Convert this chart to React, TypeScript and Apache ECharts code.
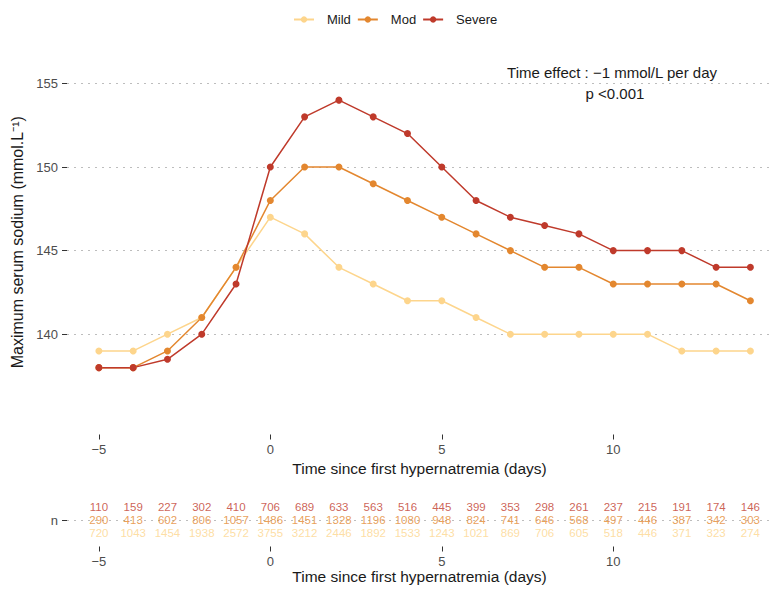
import React, { useEffect, useRef } from "react";
import * as echarts from "echarts";

const days = [-5, -4, -3, -2, -1, 0, 1, 2, 3, 4, 5, 6, 7, 8, 9, 10, 11, 12, 13, 14];
const mild = [139, 139, 140, 141, 144, 147, 146, 144, 143, 142, 142, 141, 140, 140, 140, 140, 140, 139, 139, 139];
const mod = [138, 138, 139, 141, 144, 148, 150, 150, 149, 148, 147, 146, 145, 144, 144, 143, 143, 143, 143, 142];
const severe = [138, 138, 138.5, 140, 143, 150, 153, 154, 153, 152, 150, 148, 147, 146.5, 146, 145, 145, 145, 144, 144];

const nSevere = [110, 159, 227, 302, 410, 706, 689, 633, 563, 516, 445, 399, 353, 298, 261, 237, 215, 191, 174, 146];
const nMod = [290, 413, 602, 806, 1057, 1486, 1451, 1328, 1196, 1080, 948, 824, 741, 646, 568, 497, 446, 387, 342, 303];
const nMild = [720, 1043, 1454, 1938, 2572, 3755, 3212, 2446, 1892, 1533, 1243, 1021, 869, 706, 605, 518, 446, 371, 323, 274];

const yTicks = [140, 145, 150, 155];
const xTicks = [-5, 0, 5, 10];

const C_MILD = "#FDD58C";
const C_MOD = "#E3872F";
const C_SEV = "#BF3A2B";
const FONT = "'Liberation Sans', Arial, Helvetica, sans-serif";

const fmtX = (v: number) => (v < 0 ? "\u2212" + Math.abs(v) : String(v));

export default function App() {
  const ref = useRef<HTMLDivElement>(null);
  useEffect(() => {
    document.body.style.margin = "0";
    const chart = echarts.init(ref.current!, null, { renderer: "svg" });
    const lineSeries = (name: string, vals: number[], color: string) => ({
      name,
      type: "line",
      xAxisIndex: 0,
      yAxisIndex: 0,
      data: days.map((d, i) => [d, vals[i]]),
      symbol: "circle",
      symbolSize: 7,
      showSymbol: true,
      lineStyle: { color, width: 1.5 },
      itemStyle: { color },
      z: 3,
    });
    const nSeries = (name: string, vals: number[], color: string, row: number) => ({
      name,
      type: "scatter",
      xAxisIndex: 1,
      yAxisIndex: 1,
      data: days.map((d, i) => [d, row, vals[i]]),
      symbolSize: 1,
      itemStyle: { color: "rgba(0,0,0,0)" },
      label: {
        show: true,
        position: "inside",
        formatter: (p: any) => String(p.value[2]),
        color,
        fontSize: 11.5,
        lineHeight: 11,
        fontFamily: FONT,
      },
      z: 3,
    });
    const gridLineStyle = { color: "#bdbdbd", width: 1.2, type: [2, 5] as any };
    const xAxisCommon = {
      type: "value",
      min: -5.93,
      max: 14.63,
      axisLine: { show: false, onZero: false },
      splitLine: { show: false },
      axisTick: { show: true, customValues: xTicks, length: 5, lineStyle: { color: "#333" } },
      axisLabel: {
        customValues: xTicks,
        formatter: fmtX,
        color: "#4d4d4d",
        fontSize: 13,
        fontFamily: FONT,
        margin: 8,
      },
      name: "Time since first hypernatremia (days)",
      nameLocation: "middle",
      nameTextStyle: { color: "#1a1a1a", fontSize: 15.5, fontFamily: FONT },
    };
    chart.setOption({
      animation: false,
      textStyle: { fontFamily: FONT },
      legend: {
        data: ["Mild", "Mod", "Severe"],
        top: 8,
        left: 288,
        itemWidth: 20,
        itemHeight: 8,
        itemGap: 6,
        textStyle: { fontSize: 13, color: "#1a1a1a", fontFamily: FONT, padding: [0, 0, 0, 8] },
      },
      grid: [
        { left: 67, right: 4, top: 50, height: 384.5, outerBoundsMode: "none" },
        { left: 67, right: 4, top: 494, height: 52.5, outerBoundsMode: "none" },
      ],
      xAxis: [
        { ...xAxisCommon, gridIndex: 0, nameGap: 23 },
        { ...xAxisCommon, gridIndex: 1, nameGap: 21 },
      ],
      yAxis: [
        {
          type: "value",
          gridIndex: 0,
          min: 134,
          max: 157,
          axisLine: { show: false, onZero: false },
          splitLine: { show: false },
          axisTick: { show: true, customValues: yTicks, length: 5, lineStyle: { color: "#333" } },
          axisLabel: { customValues: yTicks, color: "#4d4d4d", fontSize: 13, fontFamily: FONT, margin: 9 },
          name: "Maximum serum sodium (mmol.L\u207B\u00B9)",
          nameLocation: "middle",
          nameRotate: 90,
          nameGap: 38,
          nameTextStyle: { color: "#1a1a1a", fontSize: 16, fontFamily: FONT },
        },
        {
          type: "value",
          gridIndex: 1,
          min: 0,
          max: 4,
          axisLine: { show: false, onZero: false },
          splitLine: { show: false },
          axisTick: { show: true, customValues: [2], length: 5, lineStyle: { color: "#333" } },
          axisLabel: { customValues: [2], formatter: () => "n", color: "#4d4d4d", fontSize: 13, fontFamily: FONT, margin: 9 },
        },
      ],
      graphic: [
        {
          type: "text",
          x: 612,
          y: 72,
          style: {
            text: "Time effect : \u22121 mmol/L per day",
            align: "center",
            verticalAlign: "middle",
            font: `15px ${FONT}`,
            fill: "#1a1a1a",
          },
        },
        {
          type: "text",
          x: 615,
          y: 93,
          style: {
            text: "p <0.001",
            align: "center",
            verticalAlign: "middle",
            font: `15px ${FONT}`,
            fill: "#1a1a1a",
          },
        },
      ],
      series: [
        {
          name: "grid-top",
          type: "line",
          xAxisIndex: 0,
          yAxisIndex: 0,
          data: [],
          z: 1,
          markLine: {
            silent: true,
            z: 1,
            symbol: ["none", "none"],
            label: { show: false },
            lineStyle: gridLineStyle,
            data: yTicks.map((v) => ({ yAxis: v })),
          },
        },
        {
          name: "grid-bottom",
          type: "line",
          xAxisIndex: 1,
          yAxisIndex: 1,
          data: [],
          z: 1,
          markLine: {
            silent: true,
            z: 1,
            symbol: ["none", "none"],
            label: { show: false },
            lineStyle: gridLineStyle,
            data: [{ yAxis: 2 }],
          },
        },
        lineSeries("Mild", mild, C_MILD),
        lineSeries("Mod", mod, C_MOD),
        lineSeries("Severe", severe, C_SEV),
        nSeries("n Severe", nSevere, "#C0392B", 3.0),
        nSeries("n Mod", nMod, "#E3872F", 2.0),
        nSeries("n Mild", nMild, "#FDD58C", 1.05),
      ],
    });
    return () => chart.dispose();
  }, []);
  return <div ref={ref} style={{ width: 776, height: 594 }} />;
}
